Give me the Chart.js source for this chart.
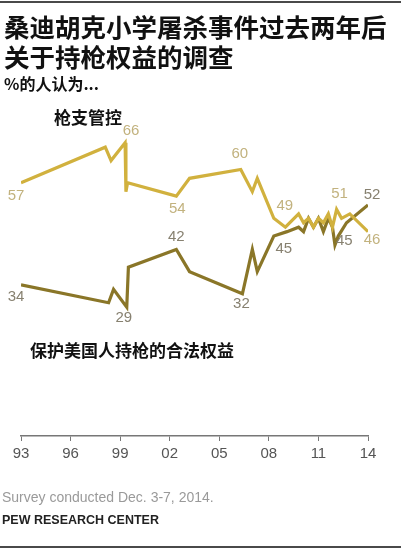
<!DOCTYPE html>
<html>
<head>
<meta charset="utf-8">
<script src="https://cdn.jsdelivr.net/npm/chart.js@4.4.1/dist/chart.umd.min.js"></script>
<style>
    body { margin: 0; background: #fff; }
    #wrap { position: relative; width: 401px; height: 550px; overflow: hidden; }
    #chartBox { position: absolute; left: 0; top: 0; width: 401px; height: 550px; }
    .txt { position: absolute; white-space: nowrap; color: #111; }
    .cjk { font-family: "Noto Sans CJK SC", sans-serif; font-weight: bold; }
    .rule { position: absolute; left: 0; width: 401px; height: 2px; background: #4a4a4a; }
</style>
</head>
<body>
<div id="wrap">
    <div id="chartBox"><canvas id="gunChart"></canvas></div>
    <div class="rule" style="top:1px"></div>
    <div class="txt cjk" style="left:4px; top:13px; font-size:25.5px; line-height:25px;">桑迪胡克小学屠杀事件过去两年后</div>
    <div class="txt cjk" style="left:4px; top:43px; font-size:25.5px; line-height:25px;">关于持枪权益的调查</div>
    <div class="txt cjk" style="left:4px; top:75px; font-size:16px; line-height:16px;">%的人认为...</div>
    <div class="txt cjk" style="left:54px; top:108px; font-size:17px; line-height:17px;">枪支管控</div>
    <div class="txt cjk" style="left:30px; top:341px; font-size:17px; line-height:17px;">保护美国人持枪的合法权益</div>
    <div class="txt" style="left:2px; top:489px; font-family: Arial, 'Liberation Sans', sans-serif; font-size:14px; color:#9a9a9a;">Survey conducted Dec. 3-7, 2014.</div>
    <div class="txt" style="left:2px; top:513px; font-family: Arial, 'Liberation Sans', sans-serif; font-size:12.5px; font-weight:bold; color:#222;">PEW RESEARCH CENTER</div>
    <div class="rule" style="top:546px"></div>
</div>
<script>
// values (decimal years on x)
const controlYears = [1993.0, 1998.1, 1998.45, 1999.3, 1999.35, 1999.45, 2002.4, 2003.2, 2006.3, 2007.0, 2007.3, 2008.3, 2009.0, 2009.8, 2010.1, 2010.4, 2010.7, 2011.0, 2011.3, 2011.6, 2011.85, 2012.1, 2012.4, 2012.9, 2014.0];
const controlValues = [57, 65, 62, 66, 55, 57, 54, 58, 60, 55, 58, 49, 47, 50, 48, 49, 47, 49, 48, 50, 47, 51, 49, 50, 46];

const rightsYears = [1993.0, 1998.3, 1998.6, 1999.4, 1999.5, 2002.4, 2003.2, 2006.4, 2007.0, 2007.3, 2008.3, 2009.1, 2009.8, 2010.1, 2010.4, 2010.7, 2011.0, 2011.3, 2011.6, 2011.85, 2012.0, 2012.2, 2012.7, 2014.0];
const rightsValues = [34, 30, 33, 29, 38, 42, 37, 32, 42, 37, 45, 46, 47, 46, 49, 47, 49, 46, 49, 47, 43, 45, 48, 52];

// which points carry a value label
const controlLabelIdx = [0, 3, 6, 8, 11, 21, 24];
const rightsLabelIdx = [0, 3, 5, 7, 10, 21, 23];

const tickYears = [1993, 1996, 1999, 2002, 2005, 2008, 2011, 2014];
const tickLabels = ['93', '96', '99', '02', '05', '08', '11', '14'];

// label placement relative to its point
const labelOffsets = {
    control: [[-5, 13], [6, -12], [1, 13], [-1, -16], [11, -12], [3, -16], [4, 8]],
    rights: [[-5, 12], [-3, 11], [0, -13], [-1, 10], [10, 13], [6, 5], [4, -10]]
};

const toPoints = (xs, ys) => xs.map((x, i) => ({ x: x, y: ys[i] }));

const valueLabels = {
    id: 'valueLabels',
    afterDatasetsDraw(chart) {
        const ctx = chart.ctx;
        ctx.save();
        ctx.font = '15px Arial, "Liberation Sans", sans-serif';
        ctx.textAlign = 'center';
        ctx.textBaseline = 'middle';
        chart.data.datasets.forEach((ds, di) => {
            const meta = chart.getDatasetMeta(di);
            const offs = labelOffsets[ds.key];
            ds.labelIdx.forEach((idx, k) => {
                const pt = meta.data[idx];
                ctx.fillStyle = ds.labelColor;
                ctx.fillText(String(ds.data[idx].y), pt.x + offs[k][0], pt.y + offs[k][1]);
            });
        });
        ctx.restore();
    }
};

const chart = new Chart(document.getElementById('gunChart'), {
    type: 'line',
    data: {
        datasets: [{
            key: 'control',
            label: '枪支管控',
            data: toPoints(controlYears, controlValues),
            labelIdx: controlLabelIdx,
            borderColor: '#d1b13e',
            labelColor: '#c2b27e',
            borderWidth: 3.2,
            pointRadius: 0,
            tension: 0
        }, {
            key: 'rights',
            label: '保护美国人持枪的合法权益',
            data: toPoints(rightsYears, rightsValues),
            labelIdx: rightsLabelIdx,
            borderColor: '#8a7628',
            labelColor: '#878170',
            borderWidth: 3.2,
            pointRadius: 0,
            tension: 0
        }]
    },
    options: {
        responsive: true,
        maintainAspectRatio: false,
        animation: false,
        layout: { padding: { left: 21, right: 33, top: 125, bottom: 74 } },
        plugins: {
            legend: { display: false },
            tooltip: { enabled: false }
        },
        scales: {
            x: {
                type: 'linear',
                min: 1993,
                max: 2014,
                afterBuildTicks: (scale) => {
                    scale.ticks = tickYears.map(v => ({ value: v }));
                },
                afterFit: (scale) => { scale.height = 40; },
                ticks: {
                    callback: (value) => tickLabels[tickYears.indexOf(value)],
                    color: '#555',
                    font: { size: 15, family: 'Arial, "Liberation Sans", sans-serif' },
                    padding: 4,
                    maxRotation: 0,
                    autoSkip: false
                },
                grid: {
                    drawOnChartArea: false,
                    drawTicks: true,
                    tickLength: 5,
                    color: '#777'
                },
                border: { display: true, color: '#777', width: 1.5 }
            },
            y: {
                display: false,
                min: 0,
                max: 70
            }
        }
    },
    plugins: [valueLabels]
});
</script>
</body>
</html>
